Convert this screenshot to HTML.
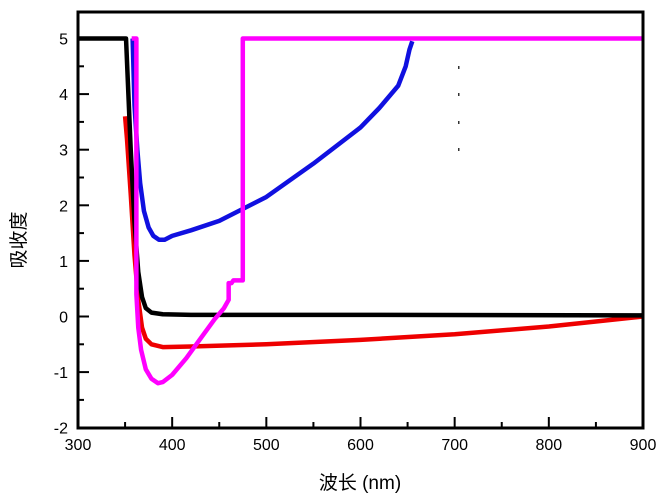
<!DOCTYPE html>
<html><head><meta charset="utf-8"><style>
body{margin:0;background:#fff}
svg text{font-family:"Liberation Sans","Noto Sans CJK SC",sans-serif;fill:#000}
</style></head><body>
<svg id="c" width="665" height="499"></svg>
<script>
const xTicks=[300,400,500,600,700,800,900];
const yTicks=[-2,-1,0,1,2,3,4,5];
const blackX=[300,351,353,356,360,364,368,372,378,390,420,600,900];
const blackY=[5,5,4.2,3.0,1.7,0.8,0.35,0.15,0.07,0.04,0.03,0.03,0.02];
const redX=[350,352,356,360,364,368,372,378,390,420,500,600,700,800,900];
const redY=[3.6,3.2,2.2,1.1,0.3,-0.2,-0.4,-0.5,-0.55,-0.54,-0.5,-0.42,-0.32,-0.18,0];
const blueX=[358,360,363,366,370,375,380,386,392,400,420,450,500,550,600,620,640,648,652,655];
const blueY=[5,3.8,3.0,2.4,1.9,1.6,1.45,1.38,1.38,1.45,1.55,1.72,2.15,2.75,3.4,3.75,4.15,4.5,4.8,4.95];
const magX=[357,362,362,364,367,372,378,385,390,400,415,430,445,455,460,460,463,465,475,475,900];
const magY=[5,5,0.4,-0.2,-0.6,-0.95,-1.12,-1.2,-1.18,-1.05,-0.75,-0.4,-0.05,0.15,0.3,0.6,0.6,0.65,0.65,5,5];
const NS='http://www.w3.org/2000/svg';
const svg=document.getElementById('c');
const L=78,R=643,T=12,B=428;
const sx=v=>L+(v-300)*(R-L)/600;
const sy=v=>316.5-v*55.6;
function mk(t,a){const e=document.createElementNS(NS,t);for(const k in a)e.setAttribute(k,a[k]);svg.appendChild(e);return e;}
function series(xs,ys,col,name){
  const p=mk('polyline',{points:xs.map((x,i)=>sx(x)+','+sy(ys[i])).join(' '),fill:'none',stroke:col,'stroke-width':4.5,'stroke-linejoin':'round'});
  
  
}
series(redX,redY,'#ee0000','red-series');
series(blueX,blueY,'#1010e0','blue-series');
series(blackX,blackY,'#000','black-series');
series(magX,magY,'#ff00ff','magenta-series');
const fr=mk('rect',{x:L,y:T,width:R-L,height:B-T,fill:'none',stroke:'#000','stroke-width':3});


for(let v=300;v<=900;v+=50){const maj=v%100===0;mk('line',{x1:sx(v),x2:sx(v),y1:B,y2:B-(maj?11:6),stroke:'#000','stroke-width':2});}
for(let v=-2;v<=5;v+=0.5){const maj=Number.isInteger(v);mk('line',{x1:L,x2:L+(maj?11:6),y1:sy(v),y2:sy(v),stroke:'#000','stroke-width':2});}
xTicks.forEach(v=>{const t=mk('text',{x:sx(v),y:B+22,'text-anchor':'middle','font-size':16});t.textContent=v;

});
yTicks.forEach(v=>{const t=mk('text',{x:L-10,y:sy(v)+6,'text-anchor':'end','font-size':16});t.textContent=v;

});
[67,94,122,149].forEach(y=>{mk('rect',{x:458,y:y-1,width:1.5,height:3,fill:'#333'});});
const xl=mk('text',{x:360,y:489,'text-anchor':'middle','font-size':19});xl.textContent='波长 (nm)';


const yl=mk('text',{x:25,y:240,'text-anchor':'middle','font-size':19,transform:'rotate(-90 25 240)'});yl.textContent='吸收度';


</script>
</body></html>
